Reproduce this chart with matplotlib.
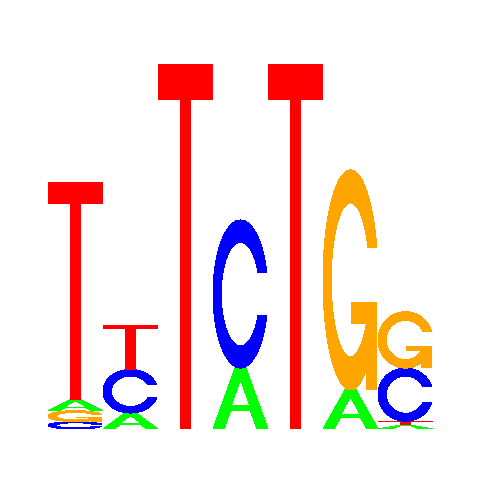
import numpy as np
import matplotlib
matplotlib.use('Agg')
import matplotlib.pyplot as plt
from matplotlib.patches import Polygon

# letter heights (bits) per position, stacked from the bottom up
positions = [1, 2, 3, 4, 5, 6, 7]
letters = [
    ['C', 'G', 'A', 'T'],
    ['A', 'C', 'T'],
    ['T'],
    ['A', 'C'],
    ['T'],
    ['A', 'G'],
    ['A', 'T', 'C', 'G'],
]
heights = [
    [0.04, 0.06, 0.06, 1.184],
    [0.087, 0.237, 0.243],
    [1.99],
    [0.332, 0.807],
    [1.99],
    [0.213, 1.199],
    [0.02, 0.022, 0.29, 0.307],
]
colors = {'A': '#00ff00', 'C': '#0000ff', 'G': '#ffa500', 'T': '#ff0000'}


def c_shape():
    # ring with an opening on the right, unit box
    a1 = np.linspace(0.3 + np.pi / 2, np.pi, 100)
    a2 = np.linspace(np.pi, 1.5 * np.pi, 100)
    xl = 0.5 + 0.5 * np.sin(np.concatenate([a1, a2]))
    yl = 0.5 + 0.5 * np.cos(np.concatenate([a1, a2]))
    top = (0.5 + 0.5 * np.cos(a1)).max()
    xo = np.concatenate([xl, xl[::-1]])
    yo = np.concatenate([yl, 1 - yl[::-1]])
    xi1 = 0.5 + 0.35 * np.sin(a1)
    yi1 = 0.5 + 0.35 * np.cos(a1)
    keep = yi1 <= top
    xi1, yi1 = xi1[keep], yi1[keep]
    yi1[0] = top
    xi = np.concatenate([xi1, 0.5 + 0.35 * np.sin(a2)])
    yi = np.concatenate([yi1, 0.5 + 0.35 * np.cos(a2)])
    x1 = np.concatenate([xi, xi[::-1]])
    y1 = np.concatenate([yi, 1 - yi[::-1]])
    x = np.concatenate([xo, x1[::-1]])
    y = np.concatenate([yo, y1[::-1]])
    return x, y, (0.5 + 0.5 * np.sin(a1)).max()


def letter_polys(ch):
    # list of (x, y, fill) in a unit box; None fill = letter colour
    if ch == 'T':
        x = np.array([0, 10, 10, 6, 6, 4, 4, 0]) * 0.1
        y = np.array([10, 10, 9, 9, 0, 0, 9, 9]) * 0.1
        return [(x, y, None)]
    if ch == 'A':
        xo = np.array([0, 4, 6, 10, 8, 6.8, 3.2, 2, 0]) * 0.1
        yo = np.array([0, 10, 10, 0, 0, 3, 3, 0, 0]) * 0.1
        xi = np.array([3.6, 5, 6.4, 3.6]) * 0.1
        yi = np.array([4, 7.5, 4, 4]) * 0.1
        return [(xo, yo, None), (xi, yi, 'white')]
    x, y, r1 = c_shape()
    if ch == 'C':
        return [(x, y, None)]
    h1 = 0.4
    xa = np.array([r1, 0.5, 0.5, r1 - 0.2, r1 - 0.2, r1, r1])
    ya = np.array([h1, h1, h1 - 0.1, h1 - 0.1, 0, 0, h1])
    return [(x, y, None), (xa, ya, None)]


def draw_letter(ax, ch, x0, y0, w, h):
    for px, py, fill in letter_polys(ch):
        pts = np.column_stack([x0 + w * px, y0 + h * py])
        ax.add_patch(Polygon(pts, closed=True, facecolor=fill or colors[ch],
                             edgecolor='none', antialiased=False))


fig = plt.figure(figsize=(4.8, 4.8), dpi=100)
ax = fig.add_axes([48 / 480, 51 / 480, 385 / 480, 367 / 480])
ax.set_xlim(0.5, 7.5)
ax.set_ylim(0, 2.0)
ax.axis('off')

for pos, lets, hs in zip(positions, letters, heights):
    base = 0.0
    for ch, h in zip(lets, hs):
        draw_letter(ax, ch, pos - 0.5, base, 1.0, h)
        base += h

fig.savefig('out.png', dpi=100, facecolor='white')
